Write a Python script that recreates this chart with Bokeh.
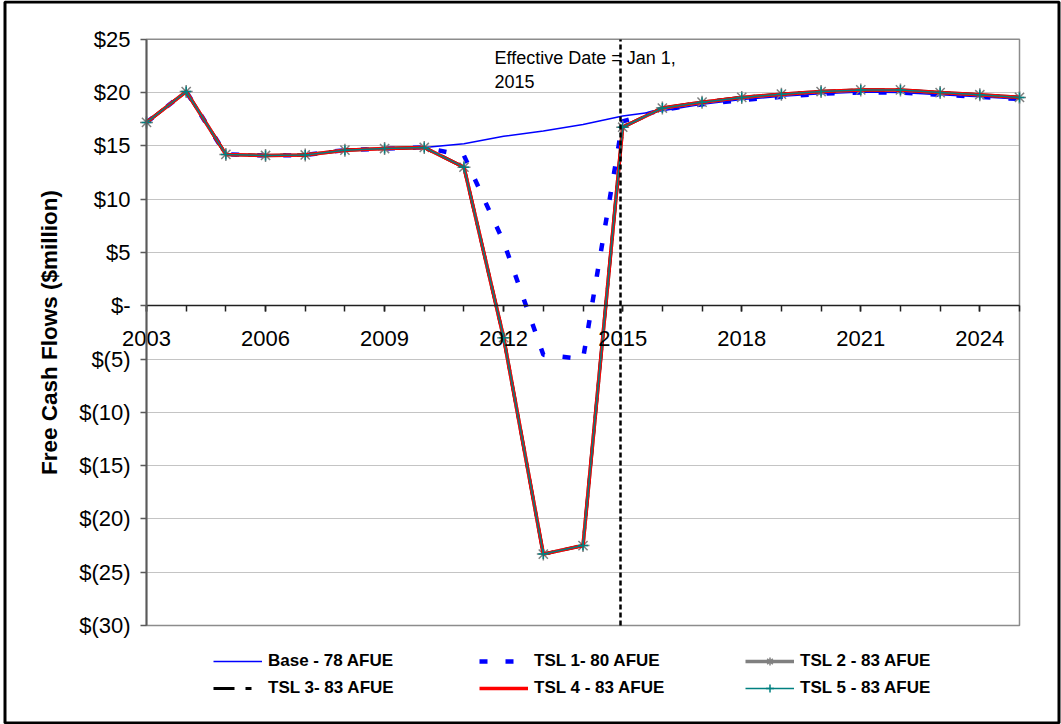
from bokeh.plotting import figure
from bokeh.models import (Range1d, FixedTicker, CustomJSTickFormatter, Label,
                          BoxAnnotation, Legend, LinearAxis, Grid)
from bokeh.embed import file_html
from bokeh.resources import INLINE

# ---------------- data ----------------
years = list(range(2003, 2026))
base_78 = [17.2, 20.1, 14.2, 14.1, 14.15, 14.6, 14.75, 14.85, 15.2, 15.9, 16.4, 17.0,
           17.8, 18.3, 18.9, 19.35, 19.65, 19.9, 20.05, 20.0, 19.8, 19.6, 19.4]
tsl1_80 = [17.2, 20.1, 14.2, 14.1, 14.15, 14.6, 14.75, 14.85, 14.1, 6.0, -4.6, -5.0,
           17.3, 18.4, 18.9, 19.3, 19.6, 19.9, 20.0, 20.0, 19.8, 19.6, 19.4]
tsl2_83 = [17.2, 20.1, 14.2, 14.1, 14.15, 14.6, 14.75, 14.85, 13.0, -3.0, -23.3, -22.5,
           16.75, 18.55, 19.1, 19.55, 19.85, 20.1, 20.25, 20.25, 20.0, 19.8, 19.55]
tsl3_83 = list(tsl2_83)
tsl4_83 = list(tsl2_83)
tsl5_83 = list(tsl2_83)
effective_year = 2014.95
y_ticks = [-30, -25, -20, -15, -10, -5, 0, 5, 10, 15, 20, 25]
x_label_years = [2003, 2006, 2009, 2012, 2015, 2018, 2021, 2024]
x_min, x_max = 2003, 2025
y_min, y_max = -30, 25

FONT = "Liberation Sans"
W, H = 1061, 724
# plot-area pixel box inside the canvas (layout only)
PL, PR, PT, PB = 146, 1019, 38.8, 625
xs = (PR - PL) / (x_max - x_min)
ys = (PB - PT) / (y_max - y_min)

p = figure(width=W, height=H, output_backend="svg", toolbar_location=None,
           x_range=Range1d(x_min - PL / xs, x_max + (W - PR) / xs),
           y_range=Range1d(y_min - (H - PB) / ys, y_max + PT / ys),
           x_axis_location=None, y_axis_location=None,
           background_fill_color="white", border_fill_color="white")
p.min_border = 0
p.outline_line_color = None
p.xgrid.visible = False
p.ygrid.visible = False

# horizontal gridlines limited to the plot area
p.add_layout(Grid(dimension=1, ticker=FixedTicker(ticks=y_ticks),
                  cross_bounds=(x_min, x_max), grid_line_color="#c4c4c4",
                  grid_line_width=1))
# plot-area outline
p.add_layout(BoxAnnotation(left=x_min, right=x_max, bottom=y_min, top=y_max,
                           fill_alpha=0, line_color="#8c8c8c", line_alpha=1,
                           line_width=1.5, level="underlay"))

# x axis crossing at y = 0
xa = LinearAxis(fixed_location=0, bounds=(x_min, x_max),
                ticker=FixedTicker(ticks=x_label_years, minor_ticks=years))
xa.axis_line_color = "#202020"
xa.axis_line_width = 1.5
xa.major_tick_line_color = "#202020"
xa.minor_tick_line_color = "#202020"
xa.major_tick_line_width = 1.5
xa.minor_tick_line_width = 1.5
xa.major_tick_in = 0
xa.major_tick_out = 6
xa.minor_tick_in = 0
xa.minor_tick_out = 6
xa.major_label_text_font = FONT
xa.major_label_text_font_size = "22px"
xa.major_label_text_color = "black"
xa.major_label_standoff = 19
p.add_layout(xa, "below")

# y axis at x = 2003
ya = LinearAxis(fixed_location=x_min, bounds=(y_min, y_max),
                ticker=FixedTicker(ticks=y_ticks))
ya.formatter = CustomJSTickFormatter(code="""
    if (tick > 0) return "$" + tick;
    if (tick < 0) return "$(" + (-tick) + ")";
    return "$-";
""")
ya.axis_line_color = "#5a5a5a"
ya.axis_line_width = 2
ya.major_tick_line_color = "#5a5a5a"
ya.major_tick_line_width = 1.5
ya.major_tick_in = 0
ya.major_tick_out = 6
ya.minor_tick_line_color = None
ya.major_label_text_font = FONT
ya.major_label_text_font_size = "22px"
ya.major_label_text_color = "black"
ya.major_label_standoff = 10
ya.axis_label = "Free Cash Flows ($million)"
ya.axis_label_text_font = FONT
ya.axis_label_text_font_size = "22.5px"
ya.axis_label_text_font_style = "bold"
ya.axis_label_text_color = "black"
ya.axis_label_standoff = 14
p.add_layout(ya, "left")

# series
r_base = p.line(years, base_78, line_color="#0000ff", line_width=1.5)
r_t1 = p.line(years, tsl1_80, line_color="#0000ff", line_width=4.5, line_dash="8 18")
r_t2l = p.line(years, tsl2_83, line_color="#808080", line_width=3.5)
r_t2m = p.scatter(years, tsl2_83, marker="asterisk", size=13, line_color="#808080",
                  line_width=1.5)
r_t3 = p.line(years, tsl3_83, line_color="black", line_width=3, line_dash="21 11 6 11")
r_t4 = p.line(years, tsl4_83, line_color="#ff0000", line_width=3.5)
r_t5l = p.line(years, tsl5_83, line_color="#008080", line_width=1.5)
r_t5m = p.scatter(years, tsl5_83, marker="cross", size=10, line_color="#008080",
                  line_width=1.5)

# effective date marker line (limited to the plot area)
p.add_layout(Grid(dimension=0, ticker=FixedTicker(ticks=[effective_year]),
                  cross_bounds=(y_min, y_max), grid_line_color="black",
                  grid_line_width=2.5, grid_line_dash="5 3", level="annotation"))
p.add_layout(Label(x=2011.77, y=24.2, text="Effective Date = Jan 1,\n2015",
                   text_baseline="top", text_align="left", text_font=FONT,
                   text_font_size="18px", text_color="black", text_line_height=1.2))

legend = Legend(items=[
    ("Base - 78 AFUE", [r_base]),
    ("TSL 1- 80 AFUE", [r_t1]),
    ("TSL 2 - 83 AFUE", [r_t2l, r_t2m]),
    ("TSL 3- 83 AFUE", [r_t3]),
    ("TSL 4 - 83 AFUE", [r_t4]),
    ("TSL 5 - 83 AFUE", [r_t5l, r_t5m]),
], location=(213, 26), orientation="horizontal", ncols=3,
    glyph_width=49, glyph_height=20, label_width=204, label_height=20,
    label_standoff=6, spacing=7, padding=0, margin=0,
    border_line_color=None, background_fill_alpha=0,
    label_text_font=FONT, label_text_font_size="17px",
    label_text_font_style="bold", label_text_color="black")
p.add_layout(legend, "center")

# outer frame border
p.add_layout(BoxAnnotation(left=4.5, right=1058.5, top=1.5, bottom=722.5,
                           left_units="canvas", right_units="canvas",
                           top_units="canvas", bottom_units="canvas",
                           fill_alpha=0, line_color="black", line_alpha=1,
                           line_width=3))

open("out.html", "w").write(file_html(p, INLINE))
